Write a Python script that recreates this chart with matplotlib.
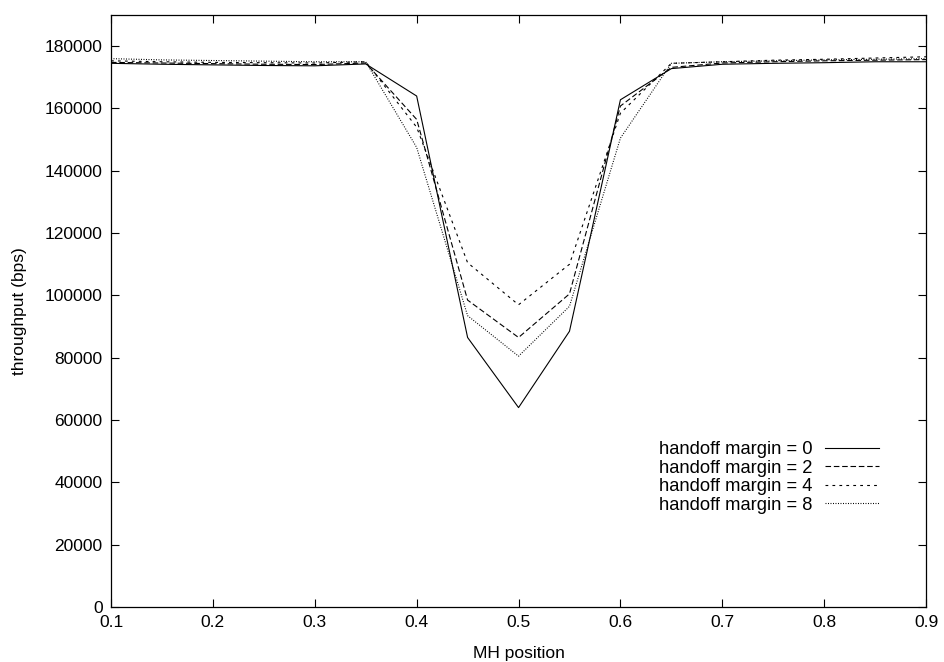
import matplotlib
matplotlib.use("Agg")
import matplotlib.pyplot as plt

plt.rcParams['font.family'] = ['Liberation Sans', 'DejaVu Sans']
plt.rcParams['lines.scale_dashes'] = False

x = [0.10, 0.15, 0.20, 0.25, 0.30, 0.35, 0.40, 0.45, 0.50,
     0.55, 0.60, 0.65, 0.70, 0.75, 0.80, 0.85, 0.90]

margin0 = [174500, 174200, 174000, 173800, 173700, 174300, 164000, 86500, 64000,
           88500, 162800, 172800, 174200, 174500, 174700, 175000, 175000]
margin2 = [174800, 174600, 174400, 174200, 174100, 174600, 156500, 98500, 86500,
           100500, 160800, 173200, 174600, 175000, 175300, 175500, 175700]
margin4 = [175300, 175000, 174800, 174700, 174600, 175000, 154000, 110500, 97000,
           110000, 158500, 174500, 175000, 175500, 175800, 176200, 176600]
margin8 = [176000, 175600, 175400, 175200, 175000, 175000, 147500, 93500, 80500,
           96500, 150500, 174500, 175000, 175300, 175600, 175800, 176000]

labels = ["handoff margin = 0", "handoff margin = 2",
          "handoff margin = 4", "handoff margin = 8"]
series = [margin0, margin2, margin4, margin8]
styles = ['-', (0, (4, 2)), (0, (2, 3)), (0, (0.7, 1.1))]

FS = 12.5

fig = plt.figure(figsize=(9.44, 6.62), dpi=100)
ax = fig.add_axes([0.1176, 0.0831, 0.981 - 0.1176, 0.9773 - 0.0831])

for ys, lab, ls in zip(series, labels, styles):
    ax.plot(x, ys, color='black', linewidth=0.8, linestyle=ls, label=lab)

ax.set_xlim(0.1, 0.9)
ax.set_ylim(0, 190000)
ax.set_xticks([0.1, 0.2, 0.3, 0.4, 0.5, 0.6, 0.7, 0.8, 0.9])
ax.set_xticklabels(["0.1", "0.2", "0.3", "0.4", "0.5", "0.6", "0.7", "0.8", "0.9"])
ax.set_yticks(range(0, 180001, 20000))
ax.set_yticklabels([str(v) for v in range(0, 180001, 20000)])
ax.tick_params(direction='in', length=6, width=0.8, top=True, right=True,
               labelsize=FS, pad=6)
for s in ax.spines.values():
    s.set_linewidth(0.9)

ax.set_xlabel("MH position", fontsize=FS, labelpad=11)
ax.set_ylabel("throughput (bps)", fontsize=FS, labelpad=13)

ax.legend(loc='lower right', bbox_to_anchor=(0.954, 0.142), frameon=False,
          markerfirst=False, fontsize=13.2, handlelength=2.95, labelspacing=0.08,
          handletextpad=0.7, borderpad=0)

fig.savefig("out.png", dpi=100)
